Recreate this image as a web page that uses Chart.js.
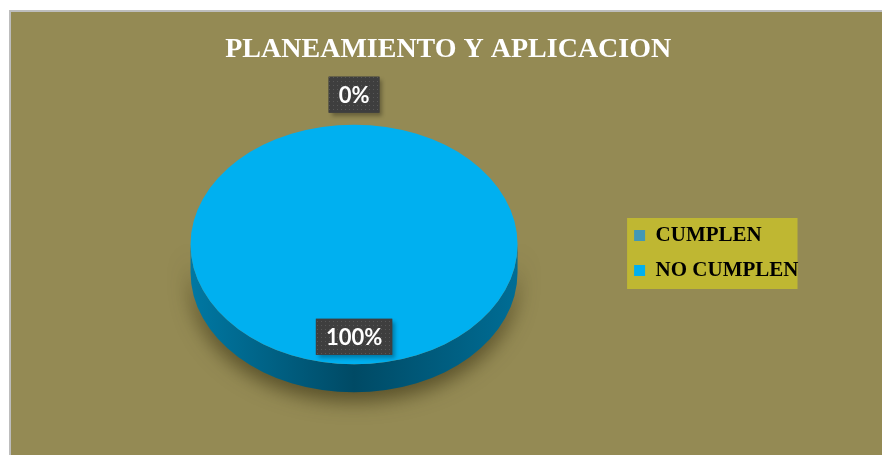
<!DOCTYPE html>
<html>
<head>
<meta charset="utf-8">
<script src="https://cdn.jsdelivr.net/npm/chart.js@4.4.1/dist/chart.umd.min.js"></script>
<style>
  html, body { margin: 0; padding: 0; background: #fff; width: 882px; height: 455px; overflow: hidden; }
  #marco { position: absolute; left: 9px; top: 10px; width: 871px; height: 443px;
           border-left: 2px solid #bdbdbd; border-top: 2px solid #bdbdbd; background: #948a54; }
  #grafico { position: absolute; left: 0; top: 0; }
</style>
</head>
<body>
<div id="marco"></div>
<canvas id="grafico" width="882" height="455"></canvas>
<script>
// Datos del grafico
const titulo = 'PLANEAMIENTO Y APLICACION';
const categorias = ['CUMPLEN', 'NO CUMPLEN'];
const porcentajes = [0, 100];
const colores = ['#4298b5', '#00b0f0'];

// efecto 3D: aplastar el circulo y darle un canto
const ESCALA_Y = 0.733;
const PROFUNDIDAD = 28;

function oscurecer(hex, f) {
  const n = parseInt(hex.slice(1), 16);
  const r = (n >> 16) & 255, g = (n >> 8) & 255, b = n & 255;
  return `rgb(${Math.round(r * f)},${Math.round(g * f)},${Math.round(b * f)})`;
}

// trama de puntos para las etiquetas
const trama = document.createElement('canvas');
trama.width = 4; trama.height = 4;
const tctx = trama.getContext('2d');
tctx.fillStyle = '#3e3e3e';
tctx.fillRect(0, 0, 4, 4);
tctx.fillStyle = '#575757';
tctx.fillRect(1, 1, 1, 1);

const fondoLeyenda = {
  id: 'fondoLeyenda',
  beforeDraw(chart) {
    const cajas = chart.legend && chart.legend.legendHitBoxes;
    if (!cajas || !cajas.length) return;
    const izq = Math.min(...cajas.map(c => c.left));
    const der = Math.max(...cajas.map(c => c.left + c.width));
    const arr = Math.min(...cajas.map(c => c.top));
    const abj = Math.max(...cajas.map(c => c.top + c.height));
    const ctx = chart.ctx;
    ctx.save();
    ctx.fillStyle = '#bfb732';
    ctx.fillRect(izq - 7, arr - 7, der - izq + 6, abj - arr + 15);
    ctx.restore();
  }
};

const torta3d = {
  id: 'torta3d',
  beforeDatasetsDraw(chart) {
    const ctx = chart.ctx;
    const arcos = chart.getDatasetMeta(0).data;
    const { x: cx, y: cy, outerRadius: r } = arcos[0];
    const ry = r * ESCALA_Y;

    // canto inferior con sombra
    ctx.save();
    ctx.shadowColor = 'rgba(45,38,10,0.6)';
    ctx.shadowBlur = 20;
    ctx.shadowOffsetY = 9;
    arcos.forEach((arco, i) => {
      const a0 = Math.max(arco.startAngle, 0);
      const a1 = Math.min(arco.endAngle, Math.PI);
      if (a1 <= a0) return;
      const grad = ctx.createLinearGradient(cx - r, 0, cx + r, 0);
      grad.addColorStop(0, oscurecer(colores[i], 0.68));
      grad.addColorStop(0.5, oscurecer(colores[i], 0.42));
      grad.addColorStop(1, oscurecer(colores[i], 0.62));
      ctx.beginPath();
      ctx.ellipse(cx, cy, r, ry, 0, a0, a1, false);
      ctx.ellipse(cx, cy + PROFUNDIDAD, r, ry, 0, a1, a0, true);
      ctx.closePath();
      ctx.fillStyle = grad;
      ctx.fill();
    });
    ctx.restore();

    // cara superior: se dibuja con la libreria, aplastada
    ctx.save();
    ctx.translate(cx, cy);
    ctx.scale(1, ESCALA_Y);
    ctx.translate(-cx, -cy);
  },
  afterDatasetsDraw(chart) {
    const ctx = chart.ctx;
    ctx.restore();

    const arcos = chart.getDatasetMeta(0).data;
    ctx.save();
    ctx.font = 'bold 22px Lato';
    ctx.textAlign = 'center';
    ctx.textBaseline = 'middle';
    arcos.forEach((arco, i) => {
      const v = porcentajes[i];
      const texto = v + '%';
      const medio = (arco.startAngle + arco.endAngle) / 2;
      const dist = v === 0 ? 1.25 * arco.outerRadius : 0.77 * arco.outerRadius;
      const x = arco.x + Math.cos(medio) * dist;
      const y = arco.y + Math.sin(medio) * dist * ESCALA_Y;
      const w = ctx.measureText(texto).width + 20;
      const h = 36;
      ctx.shadowColor = 'rgba(0,0,0,0.3)';
      ctx.shadowOffsetX = 3;
      ctx.shadowOffsetY = 3;
      ctx.shadowBlur = 4;
      ctx.fillStyle = '#3e3e3e';
      ctx.fillRect(x - w / 2, y - h / 2, w, h);
      ctx.shadowColor = 'transparent';
      ctx.fillStyle = ctx.createPattern(trama, 'repeat');
      ctx.fillRect(x - w / 2, y - h / 2, w, h);
      ctx.fillStyle = '#fff';
      ctx.fillText(texto, x, y + 1);
    });
    ctx.restore();
  }
};

new Chart(document.getElementById('grafico'), {
  type: 'pie',
  data: {
    labels: categorias,
    datasets: [{
      data: porcentajes,
      backgroundColor: colores,
      borderWidth: 0,
      radius: 163.5
    }]
  },
  options: {
    responsive: false,
    animation: false,
    events: [],
    layout: { padding: { left: 88, right: 73.5, top: 0, bottom: 36 } },
    plugins: {
      title: {
        display: true,
        text: titulo,
        color: '#fff',
        font: { family: 'Liberation Serif', size: 28, weight: 'bold', lineHeight: 1.2 },
        padding: { top: 33, bottom: 3.4 }
      },
      legend: {
        position: 'right',
        title: {
          display: true,
          text: '',
          font: { size: 10, lineHeight: 1.2 },
          padding: { top: 75, bottom: 0 }
        },
        labels: {
          color: '#000',
          font: { family: 'Liberation Serif', size: 21, weight: 'bold' },
          boxWidth: 11,
          boxHeight: 11,
          padding: 14
        }
      },
      tooltip: { enabled: false }
    }
  },
  plugins: [fondoLeyenda, torta3d]
});
</script>
</body>
</html>
